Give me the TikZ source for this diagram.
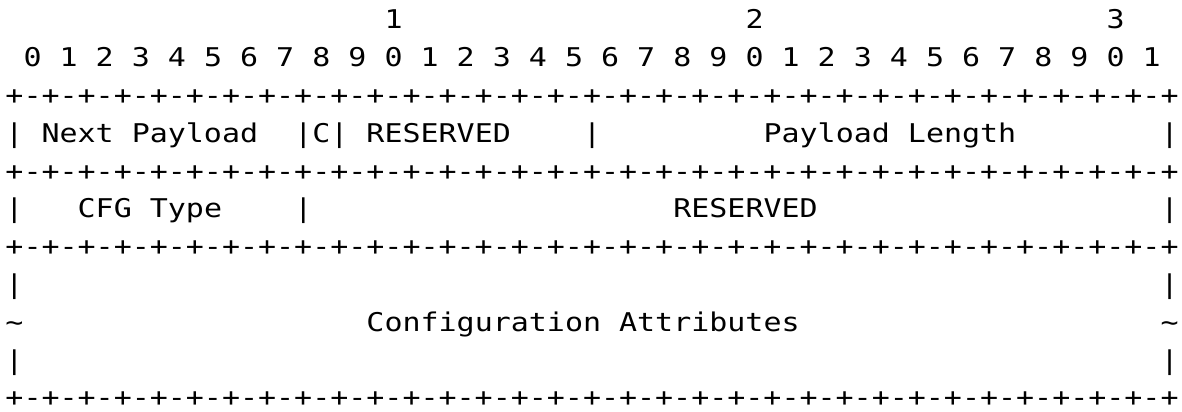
\documentclass[tikz,border=0pt]{standalone}
\usepackage{fontspec}
\newfontfamily\asciifont{DejaVu Sans Mono}
\usepackage{tikz}

\begin{document}
\begin{tikzpicture}[x=9.025pt,y=18.9pt]
      \tikzstyle{chars}=[anchor=base west,inner sep=0pt,xscale=1.162,font=\fontsize{12.9}{15}\asciifont];
      \useasboundingbox[fill=white](-0.277,-0.106) rectangle (65.206,10.767);
      % bit numbers
      \node[chars] (ten1) at (21,10) {1};
      \node[chars] (ten2) at (41,10) {2};
      \node[chars] (ten3) at (61,10) {3};
      \foreach \b in {0,...,31}{
        \pgfmathtruncatemacro{\d}{mod(\b,10)}
        \node[chars] (bit\b) at ({1+2*\b},9) {\d};
      }
      % first word
      \node[chars] (rule1) at (0,8) {+-+-+-+-+-+-+-+-+-+-+-+-+-+-+-+-+-+-+-+-+-+-+-+-+-+-+-+-+-+-+-+-+};
      \node[chars] (bar1a) at (0,7) {|};
      \node[chars] (nextpl) at (2,7) {Next Payload};
      \node[chars] (bar1b) at (16,7) {|};
      \node[chars] (cflag) at (17,7) {C};
      \node[chars] (bar1c) at (18,7) {|};
      \node[chars] (resv1) at (20,7) {RESERVED};
      \node[chars] (bar1d) at (32,7) {|};
      \node[chars] (pllen) at (42,7) {Payload Length};
      \node[chars] (bar1e) at (64,7) {|};
      % second word
      \node[chars] (rule2) at (0,6) {+-+-+-+-+-+-+-+-+-+-+-+-+-+-+-+-+-+-+-+-+-+-+-+-+-+-+-+-+-+-+-+-+};
      \node[chars] (bar2a) at (0,5) {|};
      \node[chars] (cfgtype) at (4,5) {CFG Type};
      \node[chars] (bar2b) at (16,5) {|};
      \node[chars] (resv2) at (37,5) {RESERVED};
      \node[chars] (bar2c) at (64,5) {|};
      % attributes
      \node[chars] (rule3) at (0,4) {+-+-+-+-+-+-+-+-+-+-+-+-+-+-+-+-+-+-+-+-+-+-+-+-+-+-+-+-+-+-+-+-+};
      \node[chars] (bar3a) at (0,3) {|};
      \node[chars] (bar3b) at (64,3) {|};
      \node[chars] (tilde1) at (0,2) {\textasciitilde};
      \node[chars] (attrs) at (20,2) {Configuration Attributes};
      \node[chars] (tilde2) at (64,2) {\textasciitilde};
      \node[chars] (bar4a) at (0,1) {|};
      \node[chars] (bar4b) at (64,1) {|};
      \node[chars] (rule4) at (0,0) {+-+-+-+-+-+-+-+-+-+-+-+-+-+-+-+-+-+-+-+-+-+-+-+-+-+-+-+-+-+-+-+-+};
\end{tikzpicture}
\end{document}
